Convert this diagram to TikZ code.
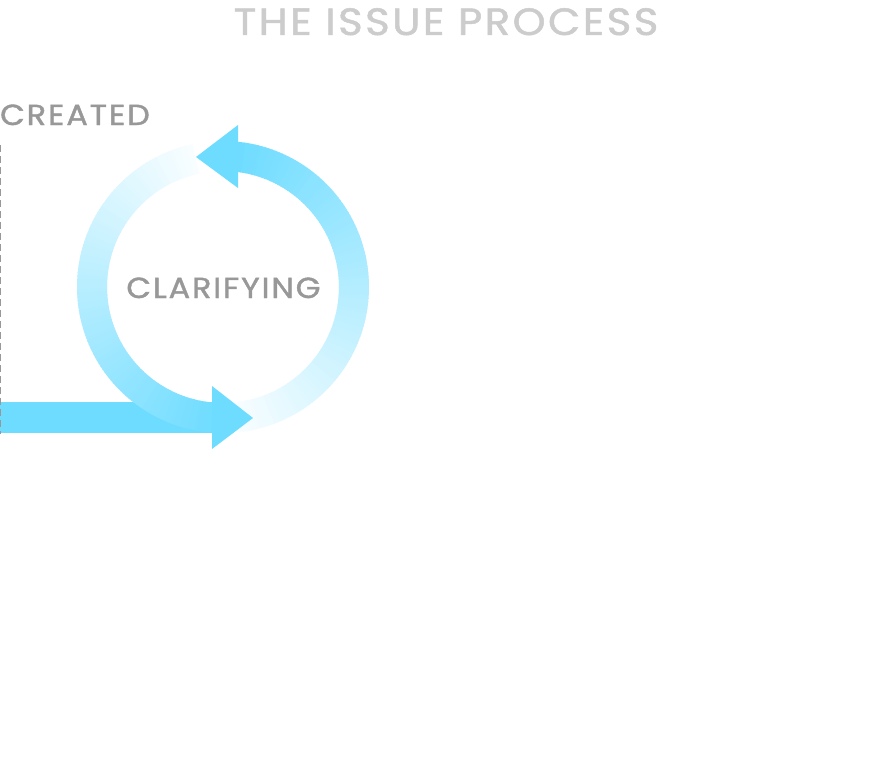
\documentclass[tikz,border=0pt]{standalone}
\usepackage{fontspec}
\setmainfont{Poppins}
\newfontfamily\gfont[LetterSpace=6, FakeBold=1.3]{Poppins}
\usetikzlibrary{calc}
\definecolor{flow}{RGB}{110,220,255}
\definecolor{titlegrey}{RGB}{204,204,204}
\definecolor{labelgrey}{RGB}{152,152,152}
\newcommand{\widetext}[1]{\scalebox{1.1}[1]{#1}}
\begin{document}
\begin{tikzpicture}[x=1pt,y=1pt,
  titletext/.style={text=titlegrey, font=\gfont\fontsize{38}{38}\selectfont, inner sep=0, anchor=base},
  labeltext/.style={text=labelgrey, font=\gfont\fontsize{29}{29}\selectfont, inner sep=0},
  ring/.style={line width=30pt, line cap=butt},
  flowfill/.style={fill=flow, draw=none}]
\useasboundingbox (0,0) rectangle (894,-760);
\fill[white] (0,0) rectangle (894,-760);
\coordinate (c) at (223,-287);
% straight bar
\fill[flowfill] (0,-402) rectangle (213,-433);
% right arc: faint at bottom, strong at top
\foreach \i in {0,...,119}{
  \pgfmathsetmacro\a{-85+(169/120)*\i}
  \pgfmathsetmacro\b{\a+(169/120)+0.6}
  \pgfmathtruncatemacro\p{5+(95/119)*\i}
  \draw[ring, color=flow!\p!white] ($(c)+(\a:131)$) arc[start angle=\a, end angle=\b, radius=131];
}
% left arc: faint at top, strong at bottom
\foreach \i in {0,...,119}{
  \pgfmathsetmacro\a{102+(166/120)*\i}
  \pgfmathsetmacro\b{\a+(166/120)+0.6}
  \pgfmathtruncatemacro\p{5+(95/119)*\i}
  \draw[ring, color=flow!\p!white] ($(c)+(\a:131)$) arc[start angle=\a, end angle=\b, radius=131];
}
% arrowheads
\fill[flowfill] (212,-386) -- (253,-418) -- (212,-449) -- cycle;
\fill[flowfill] (238,-125) -- (196,-157) -- (238,-188) -- cycle;
% dashed marker
\coordinate (d1) at (0.7,-145);
\coordinate (d2) at (0.7,-434);
\draw[labelgrey, line width=1.4pt, dash pattern=on 7pt off 4pt] (d1) -- (d2);
% texts
\node[titletext] (title) at (446,-35) {\widetext{THE ISSUE PROCESS}};
\node[labeltext, anchor=base west] (created) at (0,-125) {\widetext{CREATED}};
\node[labeltext, anchor=base] (clarifying) at (223.5,-298) {\widetext{CLARIFYING}};
\end{tikzpicture}
\end{document}
